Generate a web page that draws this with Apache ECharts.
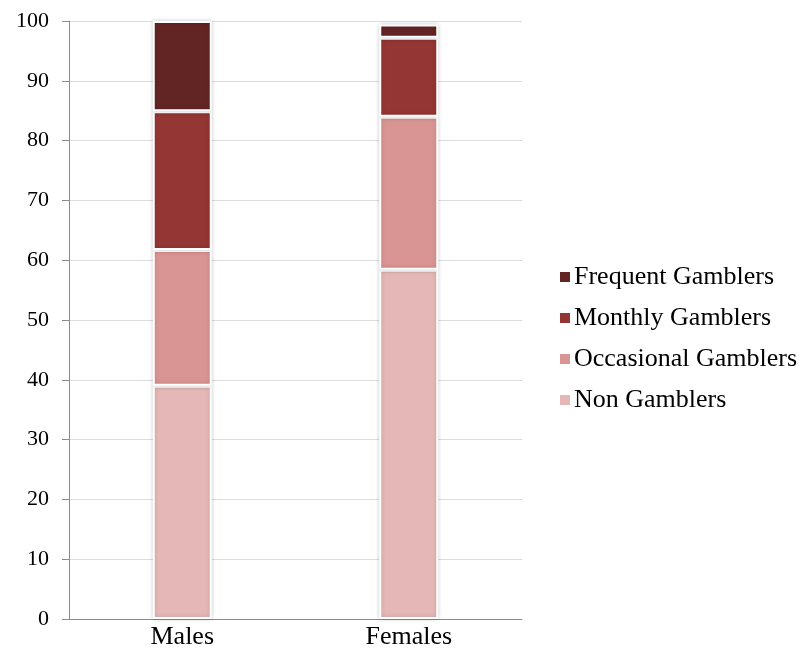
<!DOCTYPE html>
<html>
<head>
<meta charset="utf-8">
<script src="https://cdn.jsdelivr.net/npm/echarts@6/dist/echarts.min.js"></script>
<style>
  html, body { margin: 0; padding: 0; background: #fff; }
  #chart { width: 801px; height: 661px; }
</style>
</head>
<body>
<div id="chart"></div>
<script>
// Gambling frequency by gender (percent of respondents)
const categories = ['Males', 'Females'];
const nonGamblers = [39.0, 58.4];
const occasionalGamblers = [22.7, 25.6];
const monthlyGamblers = [23.2, 13.2];
const frequentGamblers = [15.1, 2.2];
const yTicks = [0, 10, 20, 30, 40, 50, 60, 70, 80, 90, 100];

const seriesDefs = [
  { name: 'Non Gamblers', data: nonGamblers, color: '#e5b8b7' },
  { name: 'Occasional Gamblers', data: occasionalGamblers, color: '#d99594' },
  { name: 'Monthly Gamblers', data: monthlyGamblers, color: '#943634' },
  { name: 'Frequent Gamblers', data: frequentGamblers, color: '#632523' }
];

const font = '"Liberation Serif", "Times New Roman", serif';
const chart = echarts.init(document.getElementById('chart'));

chart.setOption({
  animation: false,
  backgroundColor: '#ffffff',
  grid: { left: 69, right: 279, top: 21, bottom: 42 },
  legend: {
    orient: 'vertical',
    left: 553,
    top: 259,
    itemWidth: 12,
    itemHeight: 12,
    itemGap: 15,
    icon: 'rect',
    data: ['Frequent Gamblers', 'Monthly Gamblers', 'Occasional Gamblers', 'Non Gamblers'],
    textStyle: { fontFamily: font, fontSize: 26, color: '#000', padding: [0, 0, 0, -2] }
  },
  xAxis: {
    type: 'category',
    data: categories,
    axisLine: { lineStyle: { color: '#8c8c8c', width: 1 } },
    axisTick: { show: false },
    axisLabel: { fontFamily: font, fontSize: 26, color: '#000', margin: 5 }
  },
  yAxis: {
    type: 'value',
    min: yTicks[0],
    max: yTicks[yTicks.length - 1],
    interval: 10,
    axisLine: { show: true, lineStyle: { color: '#8c8c8c', width: 1 } },
    axisTick: { show: true, length: 7, lineStyle: { color: '#8c8c8c' } },
    splitLine: { lineStyle: { color: '#dcdcdc', width: 1 } },
    axisLabel: { fontFamily: font, fontSize: 22, color: '#000', margin: 20 }
  },
  series: seriesDefs.map(s => ({
    name: s.name,
    type: 'bar',
    stack: 'total',
    barWidth: 59,
    data: s.data,
    itemStyle: {
      color: s.color,
      borderColor: '#ffffff',
      borderWidth: 2,
      shadowColor: 'rgba(0,0,0,0.18)',
      shadowBlur: 4
    }
  }))
});
</script>
</body>
</html>
